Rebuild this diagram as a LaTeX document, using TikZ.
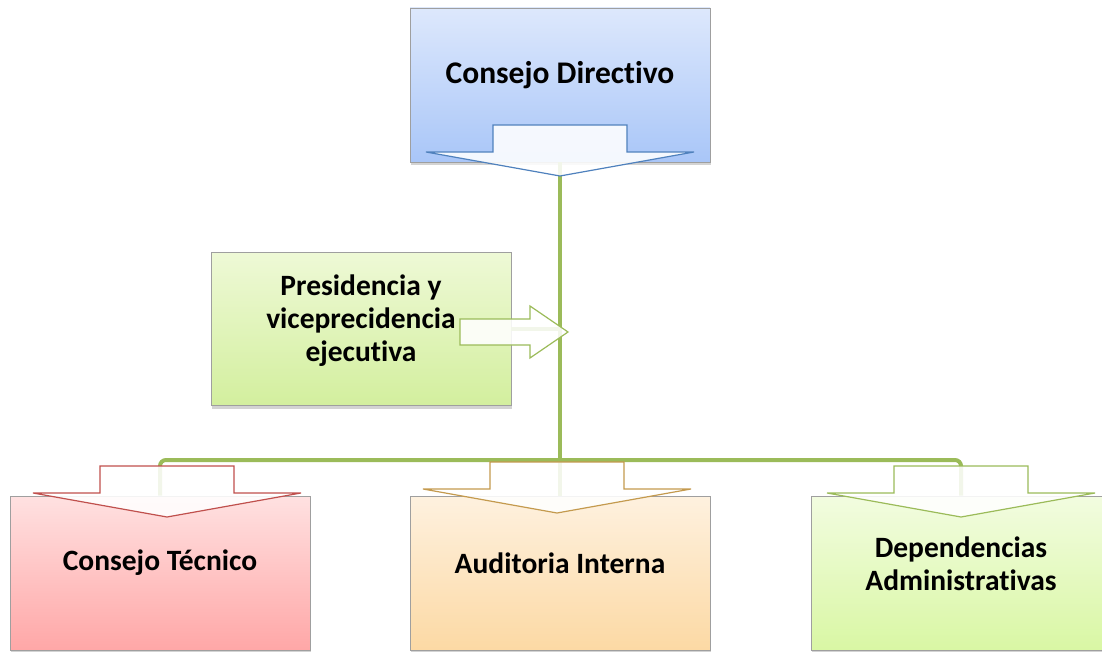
\documentclass[tikz,border=0pt]{standalone}
\usepackage{fontspec}
\setmainfont{Carlito}[Ligatures=NoCommon,RawFeature={-liga;-clig;-calt;-dlig}]
\usetikzlibrary{positioning,shadows}
\definecolor{linkgreen}{HTML}{9BBB59}
\definecolor{blueline}{HTML}{4F81BD}
\definecolor{redline}{HTML}{C0504D}
\definecolor{tanline}{HTML}{C49A4E}
\definecolor{bluetop}{HTML}{DDE8FC}
\definecolor{bluebot}{HTML}{A9C6F8}
\definecolor{limetop}{HTML}{EEF9D6}
\definecolor{limebot}{HTML}{D3EF9E}
\definecolor{redtop}{HTML}{FFE1E1}
\definecolor{redbot}{HTML}{FFA7A7}
\definecolor{orangetop}{HTML}{FEF1DF}
\definecolor{orangebot}{HTML}{FCD9A4}
\definecolor{greentop}{HTML}{F2FCE0}
\definecolor{greenbot}{HTML}{D9F7A4}

\begin{document}
\begin{tikzpicture}[x=1pt,y=-1pt,
			box/.style={draw=gray!75,line width=.6pt,minimum width=300pt,minimum height=154pt,
				drop shadow={shadow xshift=1pt,shadow yshift=-3pt,opacity=.35}},
			lbl/.style={font=\bfseries\fontsize{29.5}{33}\selectfont,align=center},
			conn/.style={draw=linkgreen,line width=4pt},
			blockarr/.style={fill=white,fill opacity=.88,line width=1.2pt},
			downarr/.pic={\path[pic actions] (-67,-51) -- (67,-51) -- (67,-24) -- (134,-24) -- (0,0)
				-- (-134,-24) -- (-67,-24) -- cycle;},
			rightarr/.pic={\path[pic actions] (-108,-13) -- (-38,-13) -- (-38,-26) -- (0,0)
				-- (-38,26) -- (-38,13) -- (-108,13) -- cycle;}]
			\useasboundingbox (0,0) rectangle (1102,652);
			\node (dir) [box,top color=bluetop,bottom color=bluebot] at (560,85) {};
			\node (pres) [box,minimum height=153pt,top color=limetop,bottom color=limebot] at (361,329) {};
			\node (tec) [box,top color=redtop,bottom color=redbot] at (160,573) {};
			\node (aud) [box,top color=orangetop,bottom color=orangebot] at (560,573) {};
			\node (dep) [box,top color=greentop,bottom color=greenbot] at (961,573) {};
			\coordinate (hub) at (560,460);
			\draw[conn] (dir.south) -- (aud.north);
			\draw[conn,rounded corners=6pt] (tec.north) -- (tec.north |- hub) -- (dep.north |- hub) -- (dep.north);
			\draw[conn] (pres.east) -- (pres.east -| hub);
			\pic[blockarr,draw=blueline] at (560,176) {downarr};
			\pic[blockarr,draw=redline] at (167,517) {downarr};
			\pic[blockarr,draw=tanline] at (557,513) {downarr};
			\pic[blockarr,draw=linkgreen] at (961,517) {downarr};
			\pic[blockarr,draw=linkgreen] at (568,332) {rightarr};
			\node (dirtxt) [lbl,font=\bfseries\fontsize{31.5}{36}\selectfont] at ([yshift=10pt]dir.center) {Consejo Directivo};
			\node (prestxt) [lbl] at ([yshift=8pt]pres.center) {Presidencia y\\ viceprecidencia\\ ejecutiva};
			\node (tectxt) [lbl] at ([yshift=10pt]tec.center) {Consejo Técnico};
			\node (audtxt) [lbl] at ([yshift=10pt]aud.center) {Auditoria Interna};
			\node (deptxt) [lbl] at ([yshift=9pt]dep.center) {Dependencias\\ Administrativas};
		\end{tikzpicture}
\end{document}
